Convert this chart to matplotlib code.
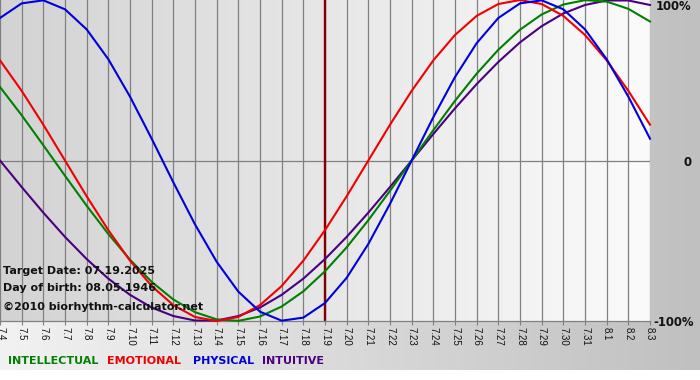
import numpy as np
import matplotlib
matplotlib.use("Agg")
import matplotlib.pyplot as plt
from matplotlib.colors import LinearSegmentedColormap

# ---- data ----
dates = ["7.4", "7.5", "7.6", "7.7", "7.8", "7.9", "7.10", "7.11", "7.12", "7.13",
         "7.14", "7.15", "7.16", "7.17", "7.18", "7.19", "7.20", "7.21", "7.22", "7.23",
         "7.24", "7.25", "7.26", "7.27", "7.28", "7.29", "7.30", "7.31", "8.1", "8.2", "8.3"]
physical = [0.888, 0.979, 0.998, 0.942, 0.817, 0.631, 0.398, 0.136, -0.136, -0.398,
            -0.631, -0.817, -0.942, -0.998, -0.979, -0.888, -0.731, -0.520, -0.270, 0.0,
            0.270, 0.520, 0.731, 0.888, 0.979, 0.998, 0.942, 0.817, 0.631, 0.398, 0.136]
emotional = [0.624, 0.434, 0.223, 0.0, -0.223, -0.434, -0.624, -0.782, -0.901, -0.975,
             -1.0, -0.975, -0.901, -0.782, -0.624, -0.434, -0.223, 0.0, 0.223, 0.434,
             0.624, 0.782, 0.901, 0.975, 1.0, 0.975, 0.901, 0.782, 0.624, 0.434, 0.223]
intellectual = [0.458, 0.282, 0.095, -0.095, -0.282, -0.458, -0.618, -0.756, -0.866, -0.945,
                -0.990, -0.999, -0.972, -0.910, -0.815, -0.690, -0.541, -0.372, -0.189, 0.0,
                0.189, 0.372, 0.541, 0.690, 0.815, 0.910, 0.972, 0.999, 0.990, 0.945, 0.866]
intuitive = [0.0, -0.165, -0.325, -0.476, -0.614, -0.736, -0.837, -0.916, -0.969, -0.997,
             -0.997, -0.969, -0.916, -0.837, -0.736, -0.614, -0.476, -0.325, -0.165, 0.0,
             0.165, 0.325, 0.476, 0.614, 0.736, 0.837, 0.916, 0.969, 0.997, 0.997, 0.969]
target_date = "7.19"
series_names = ["INTELLECTUAL", "EMOTIONAL", "PHYSICAL", "INTUITIVE"]
info_lines = ["Target Date: 07.19.2025", "Day of birth: 08.05.1946", "\u00a92010 biorhythm-calculator.net"]
y_labels = ["100%", "0", "-100%"]

# ---- style ----
C_INT = "#008000"
C_EMO = "#f00000"
C_PHY = "#0000dd"
C_ITU = "#4b0082"

W, H = 700, 380
fig = plt.figure(figsize=(W / 100, H / 100), dpi=100, facecolor="white")

# figure background gradient
bg = fig.add_axes([0, 10 / H, 1, 1 - 10 / H])
bg.set_axis_off()
grad = np.linspace(0, 1, 256).reshape(1, -1)
bg_cmap = LinearSegmentedColormap.from_list("bg", ["#f2f2f2", "#c0c0c0"])
bg.imshow(grad, aspect="auto", cmap=bg_cmap, extent=[0, 1, 0, 1])
bg.set_xlim(0, 1); bg.set_ylim(0, 1)

# main axes
ax_bottom = 1 - 321 / H
ax = fig.add_axes([0, ax_bottom, 650 / W, 321 / H])
x = np.arange(len(dates))
ax.set_xlim(0, len(dates) - 1)
ax.set_ylim(-1, 1)
pa_cmap = LinearSegmentedColormap.from_list("pa", ["#d3d3d3", "#fbfbfb"])
ax.imshow(grad, aspect="auto", cmap=pa_cmap, extent=[0, len(dates) - 1, -1, 1], zorder=0)

for xi in x:
    ax.axvline(xi, color="#808080", lw=0.9, zorder=1)
ax.axhline(0, color="#808080", lw=0.9, zorder=1)

ti = dates.index(target_date)
ax.axvline(ti, color="#800000", lw=1.7, zorder=2)

# info text (below curves)
info_y = [271, 288, 307]
for t, yy in zip(info_lines, info_y):
    fig.text(3 / W, 1 - yy / H, t, fontsize=8.0, fontweight="bold", color="#111111",
             va="center", ha="left", family="DejaVu Sans", zorder=3)

ax.plot(x, intuitive, color=C_ITU, lw=1.5, zorder=4, clip_on=False)
ax.plot(x, intellectual, color=C_INT, lw=1.5, zorder=4, clip_on=False)
ax.plot(x, emotional, color=C_EMO, lw=1.5, zorder=4, clip_on=False)
ax.plot(x, physical, color=C_PHY, lw=1.5, zorder=4, clip_on=False)

for s in ["top", "left", "right"]:
    ax.spines[s].set_visible(False)
ax.spines["bottom"].set_color("#808080")
ax.spines["bottom"].set_linewidth(0.9)
ax.set_xticks(x)
ax.set_xticklabels(dates, rotation=-90, fontsize=7, family="Liberation Sans", color="#111111")
ax.tick_params(axis="x", length=3, color="#808080", pad=1)
ax.set_yticks([])
ax.patch.set_alpha(0)

# y labels on right
fig.text(656 / W, 1 - 7 / H, y_labels[0], fontsize=8.4, fontweight="bold", va="center", ha="left", color="#111111")
fig.text(683 / W, 1 - 162 / H, y_labels[1], fontsize=8.4, fontweight="bold", va="center", ha="left", color="#111111")
fig.text(653 / W, 1 - 322 / H, y_labels[2], fontsize=8.4, fontweight="bold", va="center", ha="left", color="#111111")

# legend text
leg_x = [8, 107, 193, 262]
leg_c = [C_INT, C_EMO, C_PHY, C_ITU]
for name, lx, lc in zip(series_names, leg_x, leg_c):
    fig.text(lx / W, 1 - 361 / H, name, fontsize=8.0, fontweight="bold", color=lc,
             va="center", ha="left")

fig.savefig("out.png", dpi=100, facecolor="white")
